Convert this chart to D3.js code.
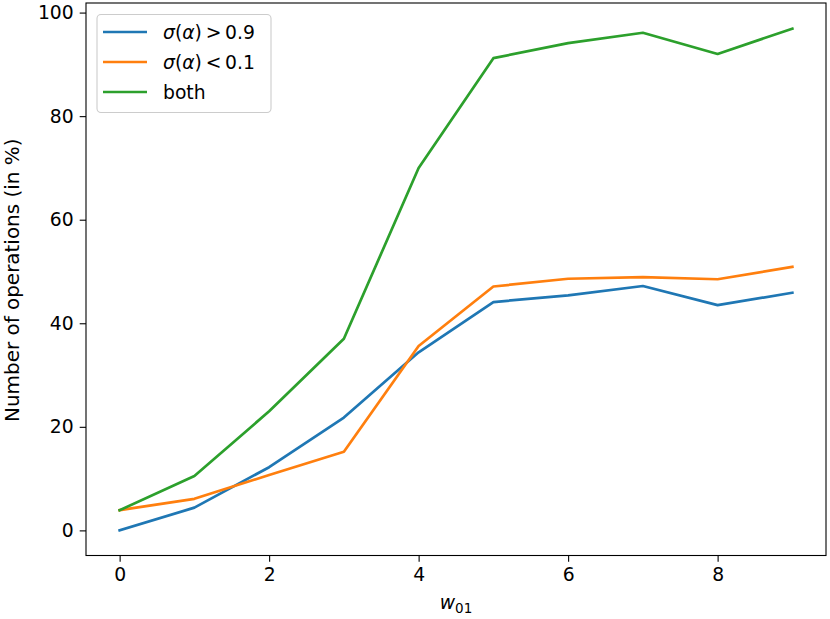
<!DOCTYPE html>
<html><head><meta charset="utf-8">
<script src="https://cdn.jsdelivr.net/npm/d3@7"></script>
<style>body{margin:0;background:#fff}svg{font-family:"DejaVu Sans",sans-serif}</style>
</head><body><svg id="c" width="830" height="619"></svg>
<script>
const xs = [0,1,2,3,4,5,6,7,8,9];
const high = [0,4.4,12.2,21.8,34.4,44.1,45.4,47.2,43.5,45.9];
const low = [3.9,6.1,10.7,15.2,35.6,47.1,48.6,48.9,48.5,50.9];
const both = [3.9,10.5,23.0,37.0,70.0,91.2,94.1,96.1,92.0,96.9];
const xTicks = [0,2,4,6,8];
const yTicks = [0,20,40,60,80,100];
const colors = ["#1f77b4","#ff7f0e","#2ca02c"];
const FS = 18.75;

const svg = d3.select("#c");
const L=86, R=826, T=3, B=555.5;
const x = d3.scaleLinear().domain([-0.45,9.45]).range([L,R]);
const y = d3.scaleLinear().domain([-4.85,101.85]).range([B,T]);

const data=[high,low,both];
const line = d3.line().x((d,i)=>x(xs[i])).y(d=>y(d));
data.forEach((s,k)=>{
  svg.append("path").attr("d",line(s)).attr("fill","none").attr("stroke",colors[k])
    .attr("stroke-width",2.7).attr("stroke-linejoin","round").attr("stroke-linecap","square");
});

const xa = svg.append("g").attr("transform",`translate(0,${B})`)
  .call(d3.axisBottom(x).tickValues(xTicks).tickSize(6.3).tickPadding(6).tickFormat(d3.format("d")));
const ya = svg.append("g").attr("transform",`translate(${L},0)`)
  .call(d3.axisLeft(y).tickValues(yTicks).tickSize(6.3).tickPadding(6).tickFormat(d3.format("d")));
[xa,ya].forEach(a=>{
  a.select(".domain").remove();
  a.selectAll("line").attr("stroke","#000").attr("stroke-width",1.1);
  a.selectAll("text").attr("font-size",FS).attr("fill","#000").attr("font-family","DejaVu Sans");
});
svg.append("rect").attr("x",L).attr("y",T).attr("width",R-L).attr("height",B-T)
  .attr("fill","none").attr("stroke","#000").attr("stroke-width",1.1);

// axis labels
const xl = svg.append("text").attr("x",(L+R)/2).attr("y",609).attr("text-anchor","middle").attr("font-size",FS);
xl.append("tspan").attr("font-style","italic").text("w");
xl.append("tspan").attr("font-size",13.5).attr("dy",4).text("01");
svg.append("text").attr("transform",`translate(19,${(T+B)/2+1}) rotate(-90)`).attr("text-anchor","middle")
  .attr("font-size",FS+1.2).text("Number of operations (in %)");

// legend
const lg = svg.append("g");
lg.append("rect").attr("x",97).attr("y",14.5).attr("width",174).attr("height",98).attr("rx",4)
  .attr("fill","#fff").attr("fill-opacity",0.8).attr("stroke","#ccc").attr("stroke-width",1.1);
const labels=[["σ","(","α",")","\u2009>\u20090.9"],["σ","(","α",")","\u2009<\u20090.1"],["both"]];
labels.forEach((lab,i)=>{
  const yy = 32+i*30;
  lg.append("line").attr("x1",103).attr("x2",147).attr("y1",yy).attr("y2",yy).attr("stroke",colors[i]).attr("stroke-width",2.7);
  const t = lg.append("text").attr("x",163).attr("y",yy+6.5).attr("font-size",FS);
  if(lab.length===1){t.text(lab[0]);}
  else{
    t.append("tspan").attr("font-style","italic").text(lab[0]);
    t.append("tspan").text(lab[1]);
    t.append("tspan").attr("font-style","italic").text(lab[2]);
    t.append("tspan").text(lab[3]);
    t.append("tspan").text(lab[4]);
  }
});
</script></body></html>
